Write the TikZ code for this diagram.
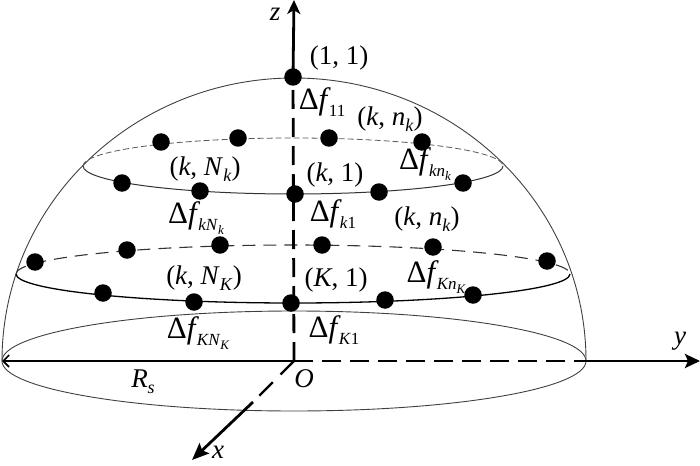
\documentclass[tikz,border=0pt]{standalone}
\usepackage{fontspec}
\setmainfont{Liberation Serif}
\usetikzlibrary{arrows.meta}
\newcommand\lsub[1]{\raisebox{-6pt}{\fontsize{18}{18}\selectfont #1}}
\newcommand\fsub[1]{\kern-2pt\raisebox{-7pt}{\fontsize{17}{17}\selectfont #1}}
\newcommand\lssub[1]{\raisebox{-3.5pt}{\fontsize{13}{13}\selectfont\itshape #1}}
\newcommand\Dfn{{\fontsize{31}{31}\selectfont Δ\textit{f}}}
\tikzset{
  lab/.style={inner sep=0pt,font=\fontsize{27}{27}\selectfont,text=black},
  dotn/.style={circle,fill=black,inner sep=0pt,minimum size=17.5pt},
  dome/.style={draw=black!75,line width=0.9pt},
  ringthin/.style={draw=black!80,line width=1pt},
  ringdash/.style={draw=black!65,line width=0.8pt,dash pattern=on 6pt off 3pt},
  ringthick/.style={draw=black,line width=1.3pt},
  ringdashb/.style={draw=black!80,line width=1.1pt,dash pattern=on 13pt off 8pt},
  axis/.style={draw=black,line width=2.8pt},
  axisdash/.style={draw=black,line width=2.8pt,dash pattern=on 19pt off 9pt},
}
\begin{document}
\begin{tikzpicture}[x=1pt,y=-1pt]
\useasboundingbox (0,0) rectangle (700,465);
% coordinates
\coordinate (O) at (294,361);
\coordinate (L) at (2,361);
\coordinate (R) at (586,361);
\coordinate (Yend) at (700,361);
\coordinate (Ztop) at (294,0);
\coordinate (Xmid) at (253,402);
\coordinate (Xend) at (192,460);
% dome and base
\draw[dome] (L) arc[start angle=180,end angle=0,x radius=292pt,y radius=283pt];
\draw[dome] (O) ++(292,0) arc[start angle=0,end angle=360,x radius=292pt,y radius=50pt];
% upper ring
\draw[ringthin] (293,166) ++(-210,0) arc[start angle=180,end angle=360,x radius=210pt,y radius=28pt];
\draw[ringdash] (293,166) ++(-210,0) arc[start angle=180,end angle=0,x radius=210pt,y radius=28pt];
% lower ring
\draw[ringthick] (293,274) ++(-277,0) arc[start angle=180,end angle=360,x radius=277pt,y radius=29pt];
\draw[ringdashb] (293,274) ++(-277,0) arc[start angle=180,end angle=0,x radius=277pt,y radius=29pt];
% dots
\foreach \n/\x/\y in {a/293/77,b1/161/142,b2/238/138,b3/329/138,b4/422/142,
  c1/122/183,c2/200/191,c3/295/194,c4/379/192,c5/463/183,
  d1/35/262,d2/127/250,d3/220/245,d4/322/245,d5/433/247,d6/547/261,
  e1/103/293,e2/194/302,e3/291/303,e4/385/300,e5/473/295}
  {\node[dotn] (\n) at (\x,\y) {};}
% axes
\draw[axisdash] (O) -- (a);
\draw[axis,-{Stealth[length=14pt,width=13pt,inset=4pt]}] (a.center) -- (Ztop);
\draw[axis,-{Straight Barb[length=6pt,width=12pt,line width=1.6pt]}] (O) -- (L);
\draw[axisdash] (O) -- (R);
\draw[axis,-{Stealth[length=15pt,width=14pt,inset=3pt]}] (R) -- (Yend);
\draw[axisdash,line width=2.4pt,dash pattern=on 19pt off 11pt] (O) -- (Xmid);
\draw[axis,-{Stealth[length=17pt,width=14pt,inset=3pt]}] (Xmid) -- (Xend);
% labels
\node[lab] (lz) at (275,14) {\textit{z}};
\node[lab] (ly) at (680,341) {\textit{y}};
\node[lab] (lx) at (218,452) {\textit{x}};
\node[lab] (lO) at (304,379) {\textit{O}};
\node[lab] (lRs) at (143,382) {\textit{R}\lsub{\textit{s}}};
\node[lab] (l11) at (339,58) {(1, 1)};
\node[lab] (lkNk) at (205,169) {(\textit{k}, \textit{N}\lsub{\textit{k}})};
\node[lab] (lk1) at (335,175) {(\textit{k}, 1)};
\node[lab] (lknk) at (390,119) {(\textit{k}, \textit{n}\lsub{\textit{k}})};
\node[lab] (lknk2) at (427,219) {(\textit{k}, \textit{n}\lsub{\textit{k}})};
\node[lab] (lkNK) at (204,278) {(\textit{k}, \textit{N}\lsub{\textit{K}})};
\node[lab] (lK1) at (336,280) {(\textit{K}, 1)};
\node[lab] (f11) at (322,102) {\Dfn\fsub{11}};
\node[lab] (fkNk) at (196,218) {\Dfn\fsub{\textit{kN}\lssub{k}}};
\node[lab] (fk1) at (333,214) {\Dfn\fsub{\textit{k}1}};
\node[lab] (fknk) at (425,164) {\Dfn\fsub{\textit{kn}\lssub{k}}};
\node[lab] (fKnK) at (436,277) {\Dfn\fsub{\textit{Kn}\lssub{K}}};
\node[lab] (fKNK) at (198,333) {\Dfn\fsub{\textit{KN}\lssub{K}}};
\node[lab] (fK1) at (334,330) {\Dfn\fsub{\textit{K}1}};
\end{tikzpicture}
\end{document}
